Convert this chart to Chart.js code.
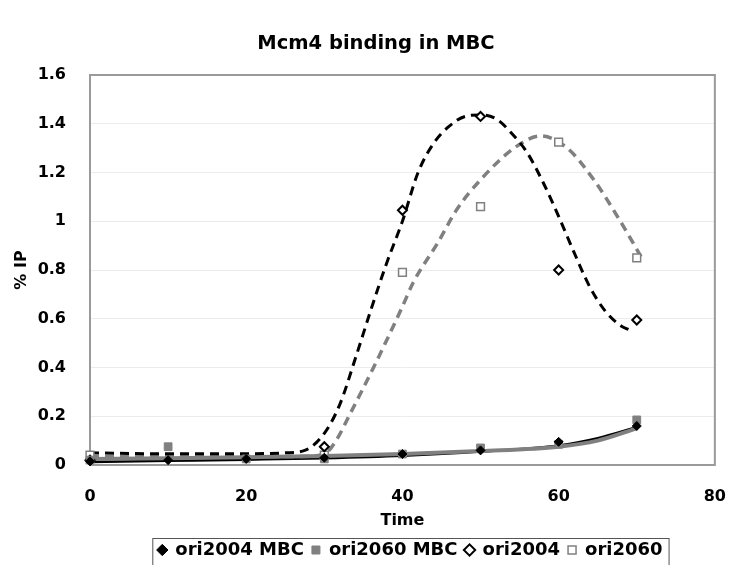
<!DOCTYPE html>
<html>
<head>
<meta charset="utf-8">
<script src="https://cdn.jsdelivr.net/npm/chart.js@4/dist/chart.umd.min.js"></script>
<style>
  html, body { margin: 0; padding: 0; background: #fff; }
  #wrap { width: 729px; height: 565px; }
</style>
</head>
<body>
<div id="wrap"><canvas id="chart" width="729" height="565"></canvas></div>
<script>
// measured points
var times = [0, 10, 20, 30, 40, 50, 60, 70];
var ori2004Mbc = [0.015, 0.02, 0.025, 0.03, 0.045, 0.06, 0.095, 0.16];
var ori2060Mbc = [0.02, 0.075, 0.025, 0.025, 0.045, 0.07, 0.085, 0.185];

var timesWt = [0, 30, 40, 50, 60, 70];
var ori2004 = [0.02, 0.075, 1.045, 1.43, 0.80, 0.595];
var ori2060 = [0.04, 0.04, 0.79, 1.06, 1.325, 0.85];

// trendlines
var trend2004X = [0, 10, 20, 25, 27.5, 30, 32, 34, 36, 38, 40, 42, 44, 46, 48, 50, 52, 54, 56, 58, 60, 62, 64, 66, 68, 69];
var trend2004Y = [0.05, 0.046, 0.046, 0.05, 0.06, 0.13, 0.25, 0.44, 0.64, 0.83, 1.0, 1.2, 1.32, 1.39, 1.43, 1.436, 1.42, 1.36, 1.28, 1.16, 1.02, 0.87, 0.73, 0.63, 0.57, 0.555];
var trend2060X = [0, 10, 20, 27, 30, 31.5, 33.3, 36.3, 40, 41.4, 44.5, 47, 50, 54.3, 57.7, 61.1, 64.5, 67.9, 70.8];
var trend2060Y = [0.035, 0.035, 0.035, 0.035, 0.045, 0.1, 0.21, 0.40, 0.65, 0.75, 0.91, 1.05, 1.17, 1.30, 1.35, 1.30, 1.17, 1.0, 0.84];
var trendMbcX = [0, 10, 20, 30, 40, 50, 60, 65, 70];
var trend2004MbcY = [0.012, 0.017, 0.022, 0.028, 0.038, 0.055, 0.08, 0.11, 0.155];
var trend2060MbcY = [0.025, 0.028, 0.032, 0.037, 0.045, 0.057, 0.075, 0.1, 0.15];

var yTickLabels = ['0', '0.2', '0.4', '0.6', '0.8', '1', '1.2', '1.4', '1.6'];
var xTickLabels = ['0', '20', '40', '60', '80'];

var black = '#000000';
var grey = '#808080';
var font = 'DejaVu Sans';
var legendShift = 8;

function pts(xs, ys) {
    return xs.map((x, i) => ({x: x, y: ys[i]}));
}

function trend(xs, ys, color, width, dash) {
    return {
        trend: true,
        data: pts(xs, ys),
        showLine: true,
        borderColor: color,
        borderWidth: width,
        borderDash: dash,
        pointRadius: 0,
        pointHoverRadius: 0,
        cubicInterpolationMode: 'monotone',
        clip: false
    };
}

var plotBorder = {
    id: 'plotBorder',
    afterLayout(chart) {
        // legend sits a little right of the plot centre in the original
        var lg = chart.legend;
        lg.left += legendShift;
        lg.right += legendShift;
        (lg.legendHitBoxes || []).forEach(b => { b.left += legendShift; });
    },
    beforeDatasetsDraw(chart) {
        var a = chart.chartArea;
        var ctx = chart.ctx;
        ctx.save();
        ctx.strokeStyle = '#9a9a9a';
        ctx.lineWidth = 2;
        ctx.strokeRect(a.left, a.top, a.right - a.left, a.bottom - a.top);
        ctx.restore();
    },
    afterDraw(chart) {
        var boxes = chart.legend.legendHitBoxes;
        if (!boxes || !boxes.length) return;
        var left = Math.min(...boxes.map(b => b.left)) - 6;
        var right = Math.max(...boxes.map(b => b.left + b.width)) + 6;
        var top = boxes[0].top - 3;
        var ctx = chart.ctx;
        ctx.save();
        ctx.strokeStyle = '#555555';
        ctx.lineWidth = 1;
        ctx.strokeRect(left + 0.5, top + 0.5, right - left, chart.height - top);
        ctx.restore();
    }
};

new Chart(document.getElementById('chart').getContext('2d'), {
    type: 'scatter',
    data: {
        datasets: [
            {
                label: 'ori2004 MBC',
                data: pts(times, ori2004Mbc),
                pointStyle: 'rectRot',
                pointRadius: 4.5,
                backgroundColor: black,
                borderColor: black,
                borderWidth: 1,
                clip: false
            },
            {
                label: 'ori2060 MBC',
                data: pts(times, ori2060Mbc),
                pointStyle: 'rect',
                pointRadius: 5.5,
                backgroundColor: grey,
                borderColor: grey,
                borderWidth: 1,
                clip: false
            },
            {
                label: 'ori2004',
                data: pts(timesWt, ori2004),
                pointStyle: 'rectRot',
                pointRadius: 4.5,
                backgroundColor: '#ffffff',
                borderColor: black,
                borderWidth: 2,
                clip: false
            },
            {
                label: 'ori2060',
                data: pts(timesWt, ori2060),
                pointStyle: 'rect',
                pointRadius: 5.5,
                backgroundColor: '#ffffff',
                borderColor: grey,
                borderWidth: 1.5,
                clip: false
            },
            trend(trend2004X, trend2004Y, black, 3, [9, 6]),
            trend(trend2060X, trend2060Y, grey, 3.5, [9, 6]),
            trend(trendMbcX, trend2060MbcY, grey, 4, []),
            trend(trendMbcX, trend2004MbcY, black, 2.5, [])
        ]
    },
    options: {
        responsive: false,
        animation: false,
        layout: { padding: { left: 37, right: 14, top: 0, bottom: -4 } },
        plugins: {
            tooltip: { enabled: false },
            title: {
                display: true,
                text: 'Mcm4 binding in MBC',
                color: '#000',
                font: { family: font, size: 19.5, weight: 'bold' },
                padding: { top: 32, bottom: 19.6 }
            },
            legend: {
                position: 'bottom',
                fullSize: false,
                labels: {
                    usePointStyle: true,
                    boxWidth: 8,
                    boxHeight: 8,
                    padding: 8,
                    color: '#000',
                    font: { family: font, size: 18, weight: 'bold' },
                    filter: (item, data) => !data.datasets[item.datasetIndex].trend
                }
            }
        },
        scales: {
            x: {
                type: 'linear',
                min: 0,
                max: 80,
                border: { display: false },
                grid: { drawOnChartArea: false, drawTicks: true, tickLength: 19, tickColor: 'rgba(0,0,0,0)' },
                ticks: {
                    stepSize: 20,
                    padding: 3,
                    color: '#000',
                    font: { family: font, size: 16, weight: 'bold' },
                    callback: (v, i) => xTickLabels[i]
                },
                title: {
                    display: true,
                    text: 'Time',
                    color: '#000',
                    font: { family: font, size: 16, weight: 'bold' },
                    padding: { top: 0, bottom: 2.4 }
                },
                afterFit: (scale) => { scale.height = 68; }
            },
            y: {
                min: 0,
                max: 1.6,
                border: { display: false },
                grid: { color: '#ececec', lineWidth: 1, drawTicks: false },
                ticks: {
                    stepSize: 0.2,
                    padding: 24,
                    color: '#000',
                    font: { family: font, size: 16, weight: 'bold' },
                    callback: (v, i) => yTickLabels[i]
                },
                title: {
                    display: true,
                    text: '% IP',
                    color: '#000',
                    font: { family: font, size: 16, weight: 'bold' },
                    padding: { top: -25, bottom: 0 }
                },
                afterFit: (scale) => { scale.width = 53; }
            }
        }
    },
    plugins: [plotBorder]
});
</script>
</body>
</html>
